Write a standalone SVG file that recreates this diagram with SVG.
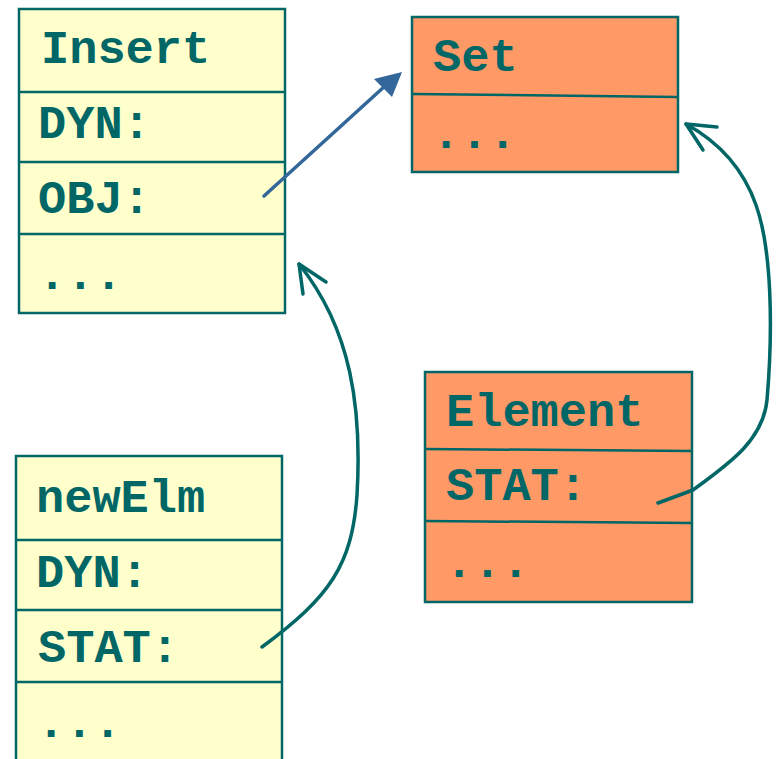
<svg xmlns="http://www.w3.org/2000/svg" width="778" height="759" viewBox="0 0 778 759">
<defs>
<style>
.y{fill:#FFFFCC;stroke:#006666;stroke-width:2.5}
.o{fill:#FF9966;stroke:#006666;stroke-width:2.5}
.d{stroke:#006666;stroke-width:2.5;fill:none}
.t{font-family:"Courier New","Liberation Mono",monospace;font-weight:bold;font-size:47px;fill:#006666}
.c{fill:none;stroke:#006666;stroke-width:3.5;stroke-linecap:round;stroke-linejoin:round}
</style>
</defs>
<rect width="778" height="759" fill="#FFFFFF"/>
<g id="insert">
<rect class="y" x="19" y="9" width="266" height="304"/>
<line class="d" x1="19" y1="92" x2="285" y2="92"/>
<line class="d" x1="19" y1="162" x2="285" y2="162"/>
<line class="d" x1="19" y1="234" x2="285" y2="234"/>
<text class="t" x="41" y="63">Insert</text>
<text class="t" x="38" y="138">DYN:</text>
<text class="t" x="38" y="213">OBJ:</text>
<text class="t" x="38" y="289">...</text>
</g>
<g id="set">
<rect class="o" x="412" y="17" width="266" height="155"/>
<line class="d" x1="412" y1="94" x2="678" y2="97"/>
<text class="t" x="433" y="71">Set</text>
<text class="t" x="432" y="148">...</text>
</g>
<g id="element">
<rect class="o" x="425" y="372" width="267" height="230"/>
<line class="d" x1="425" y1="449" x2="692" y2="451"/>
<line class="d" x1="425" y1="521" x2="692" y2="523"/>
<text class="t" x="446" y="426">Element</text>
<text class="t" x="446" y="500">STAT:</text>
<text class="t" x="445" y="577">...</text>
</g>
<g id="newElm">
<rect class="y" x="16" y="456" width="266" height="320"/>
<line class="d" x1="16" y1="540" x2="282" y2="540"/>
<line class="d" x1="16" y1="610" x2="282" y2="610"/>
<line class="d" x1="16" y1="682" x2="282" y2="682"/>
<text class="t" x="36" y="512">newElm</text>
<text class="t" x="36" y="587">DYN:</text>
<text class="t" x="38" y="662">STAT:</text>
<text class="t" x="37" y="737">...</text>
</g>
<g id="connectors">
<line x1="264" y1="196" x2="385" y2="86" stroke="#336699" stroke-width="3.5" stroke-linecap="round"/>
<polygon points="402,72 374,79 392,97" fill="#336699"/>
<path class="c" d="M262,647 C330,597 352,565 357,495 C362,410 352,330 299,264"/>
<path class="c" d="M326,282 L299,264 L303,294"/>
<path class="c" d="M658,503 L693,490 C730,463 763,440 767,400 C773,330 772,250 756,205 C742,165 715,140 686,124"/>
<path class="c" d="M717,127 L686,124 L703,150"/>
</g>
</svg>
